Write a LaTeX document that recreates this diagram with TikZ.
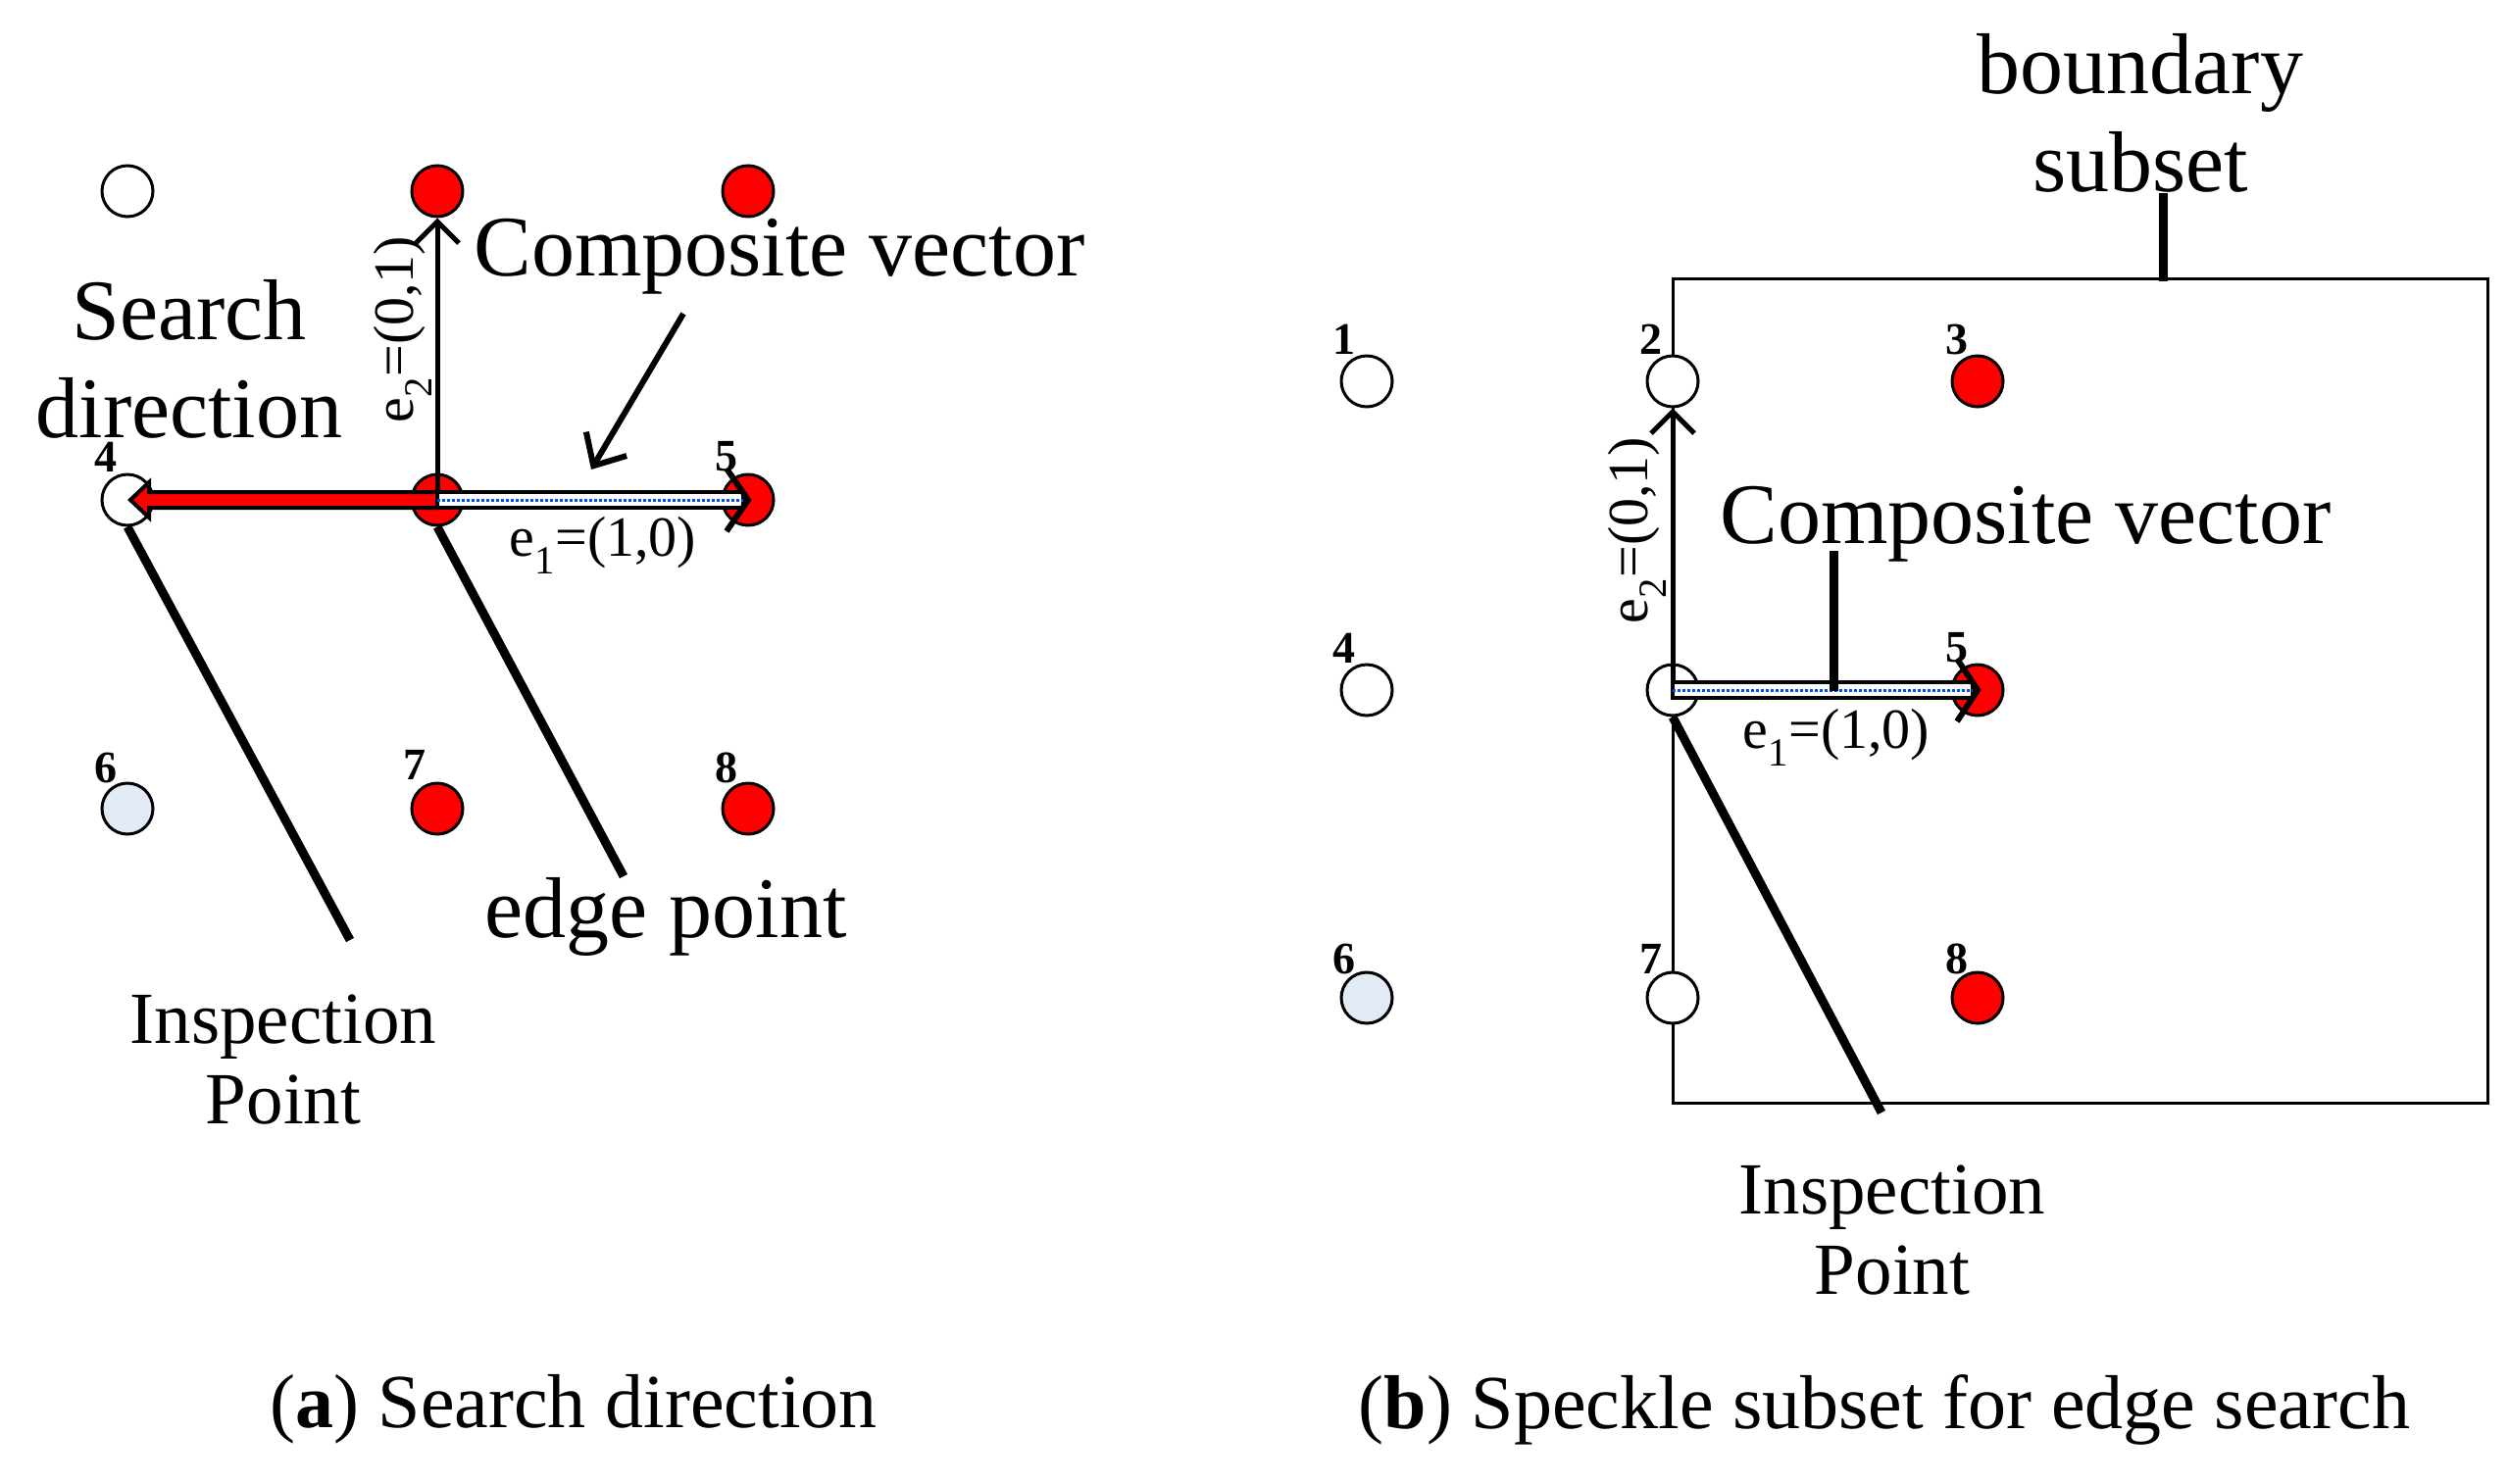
\documentclass[tikz,border=0pt]{standalone}
\usepackage{fontspec}
\setmainfont{Liberation Serif}
\usetikzlibrary{arrows.meta}
\definecolor{lb}{RGB}{226,234,245}
\definecolor{rd}{RGB}{255,0,0}
\begin{document}
\begin{tikzpicture}[x=1pt,y=-1pt,
  pt/.style={circle,draw,line width=3,minimum size=52,inner sep=0,fill=white},
  red/.style={pt,fill=rd}, lbl/.style={pt,fill=lb},
  num/.style={font=\fontsize{46}{46}\selectfont\bfseries,inner sep=0},
  big/.style={font=\fontsize{88}{100}\selectfont,inner sep=0,align=center},
  mid/.style={font=\fontsize{75}{82}\selectfont,inner sep=0,align=center},
  sm/.style={font=\fontsize{58}{60}\selectfont,inner sep=0},
  lead/.style={line width=9},
  barb/.style={line width=5,-{Straight Barb[length=22,width=44]}}]
\useasboundingbox (0,0) rectangle (2558,1513);
% ---------- panel a
\node[pt] (a1) at (130,195) {};
\node[red] (a2) at (446,195) {};
\node[red] (a3) at (763,195) {};
\node[pt] (a4) at (130,510) {};
\node[red] (a0) at (446,510) {};
\node[red] (a5) at (763,510) {};
\node[lbl] (a6) at (130,825) {};
\node[red] (a7) at (446,825) {};
\node[red] (a8) at (763,825) {};
\node[num] at (108,466) {4};
\node[num] at (741,466) {5};
\node[num] at (108,783) {6};
\node[num] at (423,780) {7};
\node[num] at (741,783) {8};
\draw[barb] (a0.center) -- (a2.south);
\node[sm,rotate=90] at (411,336) {e\textsubscript{2}=(0,1)};
% red arrow to 4
\filldraw[fill=rd,draw=black,line width=4] (446,502) -- (152,502) -- (152,492) -- (133,510) -- (152,528) -- (152,518) -- (446,518) -- cycle;
% double arrow to 5
\filldraw[fill=white,draw=black,line width=4] (446,502) -- (758,502) -- (758,518) -- (446,518) -- cycle;
\draw[blue!70!cyan,line width=3,dash pattern=on 3 off 2] (446,510) -- (758,510);
\draw[line width=6] (741,478) -- (763,510) -- (741,542);
\node[sm] at (615,556) {e\textsubscript{1}=(1,0)};
\node[big] (acv) at (795,262) {Composite vector};
\coordinate (acs) at (697,320);
\coordinate (ace) at (603,479);
\draw[line width=6,-{Straight Barb[length=26,width=48]}] (acs) -- (ace);
\node[big] at (193,366) {Search\\direction};
\coordinate (ae1) at (357,959);
\coordinate (ae2) at (636,894);
\draw[lead] (a4.south) -- (ae1);
\draw[lead] (a0.south) -- (ae2);
\node[big] at (679,935) {edge point};
\node[mid] at (289,1081) {Inspection\\Point};
\node[font=\fontsize{78}{80}\selectfont] at (585,1438) {(\textbf{a}) Search direction};
% ---------- panel b
\draw[line width=3] (1706,284) rectangle (2537,1125);
\node[pt] (b1) at (1394,389) {};
\node[pt] (b2) at (1706,389) {};
\node[red] (b3) at (2017,389) {};
\node[pt] (b4) at (1394,704) {};
\node[pt] (b0) at (1706,704) {};
\node[red] (b5) at (2017,704) {};
\node[lbl] (b6) at (1394,1018) {};
\node[pt] (b7) at (1706,1018) {};
\node[red] (b8) at (2017,1018) {};
\foreach \n/\x/\y in {1/1371/346,2/1684/346,3/1996/346,4/1371/661,5/1996/661,6/1371/978,7/1684/978,8/1996/978}
  \node[num] at (\x,\y) {\n};
\draw[barb] (b0.center) -- (b2.south);
\node[sm,rotate=90] at (1670,541) {e\textsubscript{2}=(0,1)};
\filldraw[fill=white,draw=black,line width=4] (1706,696) -- (2012,696) -- (2012,712) -- (1706,712) -- cycle;
\draw[blue!70!cyan,line width=3,dash pattern=on 3 off 2] (1706,704) -- (2012,704);
\draw[line width=6] (1996,672) -- (2017,704) -- (1996,736);
\node[sm] at (1873,752) {e\textsubscript{1}=(1,0)};
\node[big] (bcv) at (2066,535) {Composite vector};
\coordinate (bc2) at (1870,705);
\draw[lead] (1870,562) -- (bc2);
\node[big] (bnd) at (2183,115) {boundary\\subset};
\coordinate (bb) at (2206,287);
\draw[lead] (2206,197) -- (bb);
\coordinate (be) at (1919,1135);
\draw[lead] (b0.south) -- (be);
\node[mid] at (1930,1255) {Inspection\\Point};
\node[font=\fontsize{78}{80}\selectfont] at (1922,1438) {(\textbf{b}) Speckle subset for edge search};
\end{tikzpicture}
\end{document}
